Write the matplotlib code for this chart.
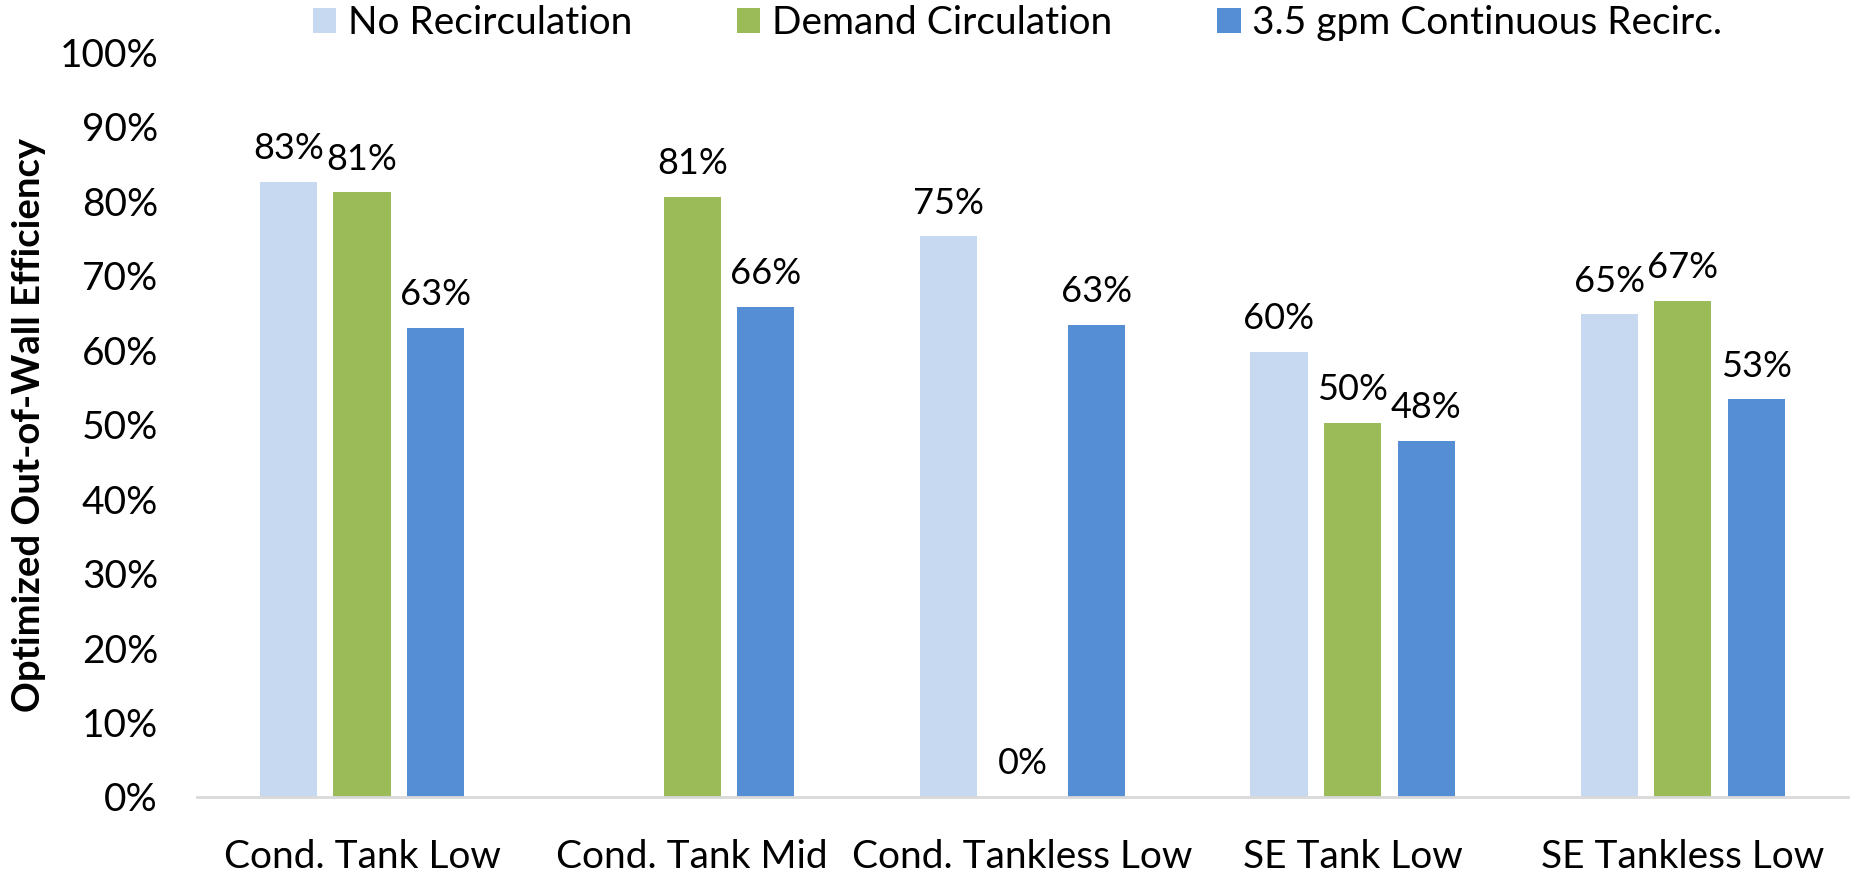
import numpy as np
from matplotlib import pyplot as plt

categories = ["Cond. Tank Low", "Cond. Tank Mid", "Cond. Tankless Low",
              "SE Tank Low", "SE Tankless Low"]
series_names = ["No Recirculation", "Demand Circulation", "3.5 gpm Continuous Recirc."]
no_recirc = [0.826, np.nan, 0.753, 0.598, 0.648]
demand = [0.812, 0.806, 0.0, 0.502, 0.666]
continuous = [0.630, 0.658, 0.634, 0.478, 0.534]
colors = ["#C6D9F1", "#9BBB59", "#558ED5"]

plt.rcParams["font.family"] = ["Lato", "DejaVu Sans"]

fig = plt.figure(figsize=(18.58, 8.71), dpi=100)
ax = fig.add_axes([0.106, 0.085, 0.8886, 0.855])

x = np.arange(len(categories))
width = 0.173
step = 0.223
for i, (vals, name, c) in enumerate(zip([no_recirc, demand, continuous], series_names, colors)):
    pos = x + (i - 1) * step
    ax.bar(pos, vals, width, color=c, label=name)
    for px, v in zip(pos, vals):
        if np.isnan(v):
            continue
        ax.annotate(f"{v:.0%}", (px, v), xytext=(0, 12), textcoords="offset points",
                    ha="center", va="bottom", fontsize=26)

ax.set_xlim(-0.5, len(categories) - 0.5)
ax.set_ylim(0, 1.0)
yticks = np.arange(0, 1.01, 0.1)
ax.set_yticks(yticks)
ax.set_yticklabels([f"{int(round(t * 100))}%" for t in yticks])
ax.set_xticks(x)
ax.set_xticklabels(categories)
ax.tick_params(axis="both", length=0, labelsize=28)
ax.tick_params(axis="y", pad=28)
ax.tick_params(axis="x", pad=30)

for side in ["top", "right", "left"]:
    ax.spines[side].set_visible(False)
ax.spines["bottom"].set_color("#D9D9D9")
ax.spines["bottom"].set_linewidth(2)

# the label is anchored at its right edge once rotated
ax.set_ylabel("Optimized Out-of-Wall Efficiency", fontsize=27.5, fontweight="bold")
ax.yaxis.set_label_coords(-0.0915, 0.5)

ax.legend(loc="upper center", bbox_to_anchor=(0.497, 1.11), ncol=3, frameon=False,
          fontsize=28, handlelength=0.6, handleheight=0.6, handletextpad=0.3,
          columnspacing=2.7)

fig.savefig("out.png", dpi=100)
